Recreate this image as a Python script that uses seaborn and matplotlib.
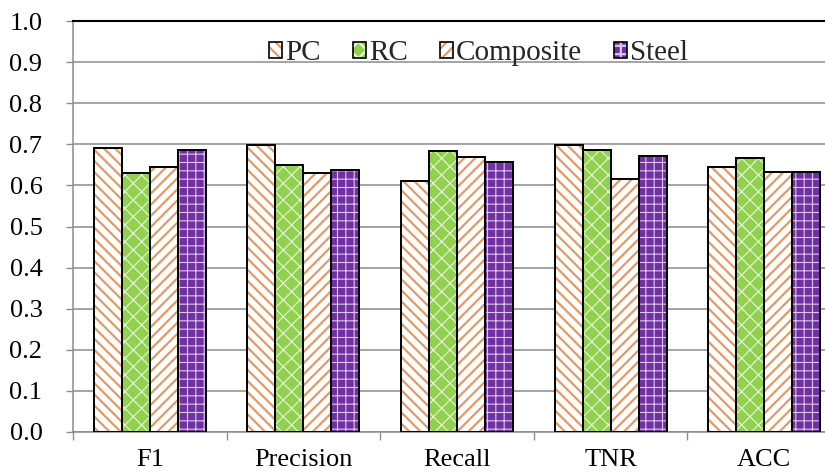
import matplotlib
matplotlib.use("Agg")
import matplotlib.pyplot as plt
import seaborn as sns
import pandas as pd
from matplotlib.patches import Rectangle, Patch

categories = ["F1", "Precision", "Recall", "TNR", "ACC"]
series = ["PC", "RC", "Composite", "Steel"]
pc = [0.690, 0.698, 0.611, 0.698, 0.645]
rc = [0.631, 0.650, 0.684, 0.685, 0.667]
composite = [0.645, 0.629, 0.670, 0.616, 0.632]
steel = [0.685, 0.638, 0.656, 0.672, 0.632]
yticks = [0.0, 0.1, 0.2, 0.3, 0.4, 0.5, 0.6, 0.7, 0.8, 0.9, 1.0]

values = {"PC": pc, "RC": rc, "Composite": composite, "Steel": steel}
rows = []
for s in series:
    for c, v in zip(categories, values[s]):
        rows.append({"Metric": c, "Material": s, "Value": v})
df = pd.DataFrame(rows)

# style per series: face colour, hatch, hatch colour, hatch linewidth
styles = {
    "PC": ("white", "\\\\\\", "#E39A68", 1.6),
    "RC": ("#92D050", "xx", "#EAF7DC", 0.8),
    "Composite": ("white", "///", "#E39A68", 1.6),
    "Steel": ("#7030A0", "++", "#DCC6EE", 0.8),
}

sns.set_theme(style="white")
plt.rcParams["font.family"] = ["Liberation Serif", "DejaVu Serif"]
plt.rcParams["hatch.linewidth"] = 1.6
serif = {"family": "Liberation Serif", "size": 19}

fig = plt.figure(figsize=(8.25, 4.76), dpi=100)
ax = fig.add_axes([73 / 825, 44 / 476, 768 / 825, 411 / 476])

sns.barplot(data=df, x="Metric", y="Value", hue="Material", order=categories,
            hue_order=series, width=0.73, ax=ax, legend=False, zorder=3)

for s, cont in zip(series, ax.containers):
    fc, hatch, hc, hlw = styles[s]
    for p in cont.patches:
        p.set_facecolor(fc)
        p.set_hatch(hatch)
        p.set_edgecolor(hc)
        p.set_linewidth(0)
        if hasattr(p, "set_hatch_linewidth"):
            p.set_hatch_linewidth(hlw)
        ax.add_patch(Rectangle((p.get_x(), p.get_y()), p.get_width(), p.get_height(),
                               fill=False, edgecolor="black", linewidth=1.4, zorder=4))

ax.set_ylim(0, 1.0)
ax.set_xlim(-0.5, len(categories) - 0.5)
ax.set_yticks(yticks)
ax.set_yticklabels([f"{t:.1f}" for t in yticks], fontdict=serif)
ax.yaxis.grid(True, color="#8C8C8C", linewidth=1.1, zorder=0)
ax.set_axisbelow(True)
ax.set_xlabel("")
ax.set_ylabel("")

ax.set_xticks(range(len(categories)))
ax.set_xticklabels(categories, fontdict=serif)
ax.set_xticks([i - 0.5 for i in range(len(categories) + 1)], minor=True)
ax.tick_params(axis="x", which="major", length=0, pad=12, colors="black")
ax.tick_params(axis="x", which="minor", length=6, width=1.0, color="#8C8C8C", bottom=True)
ax.tick_params(axis="y", which="major", length=5, width=1.0, color="#8C8C8C", left=True,
               pad=17, labelcolor="black")

ax.spines["right"].set_visible(False)
ax.spines["top"].set_visible(True)
ax.spines["top"].set_color("black")
ax.spines["top"].set_linewidth(1.5)
ax.spines["left"].set_color("#8C8C8C")
ax.spines["left"].set_linewidth(1.1)
ax.spines["bottom"].set_color("#8C8C8C")
ax.spines["bottom"].set_linewidth(1.1)

handles = []
for s in series:
    fc, hatch, hc, hlw = styles[s]
    h1 = Patch(facecolor=fc, hatch=hatch, edgecolor=hc, linewidth=0)
    h2 = Patch(facecolor="none", edgecolor="black", linewidth=1.2)
    handles.append((h1, h2))

ax.legend(handles, series, loc="center", bbox_to_anchor=(0.528, 0.922), ncol=4,
          frameon=False, prop={"family": "Liberation Serif", "size": 21},
          handlelength=0.45, handleheight=0.45,
          handletextpad=0.1, columnspacing=1.1, borderpad=0.2)

fig.savefig("out.png", dpi=100)
